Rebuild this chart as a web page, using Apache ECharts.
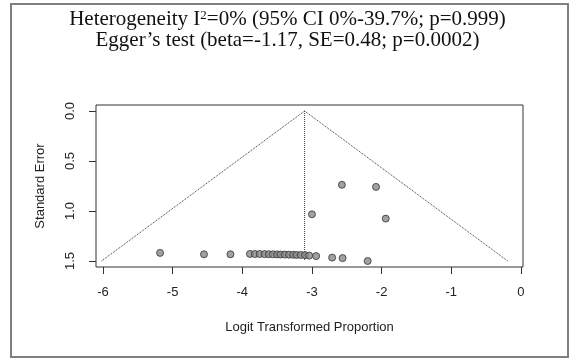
<!DOCTYPE html>
<html>
<head>
<meta charset="utf-8">
<script src="https://cdn.jsdelivr.net/npm/echarts@6/dist/echarts.min.js"></script>
<style>
html,body{margin:0;padding:0;background:#fff;}
#chart{width:575px;height:358px;}
</style>
</head>
<body>
<div id="chart"></div>
<script>
// Study estimates: logit transformed proportion and standard error
var studyLogit = [-5.18, -4.55, -4.17, -3.89, -3.82, -3.75, -3.68, -3.62, -3.56, -3.50, -3.45, -3.39, -3.33, -3.27, -3.22, -3.16, -3.10,
                  -3.04, -2.94, -2.71, -2.56, -2.20, -3.00, -2.57, -2.08, -1.94];
var studySE    = [1.419, 1.433, 1.433, 1.429, 1.430, 1.430, 1.431, 1.432, 1.433, 1.434, 1.435, 1.436, 1.437, 1.438, 1.439, 1.440, 1.441,
                  1.446, 1.451, 1.466, 1.471, 1.500, 1.033, 0.738, 0.759, 1.076];
// Funnel (pseudo-confidence region) vertices and pooled estimate line
var funnelX = [-6.02, -3.105, -0.19];
var funnelY = [1.5, 0, 1.5];
var pooledX = [-3.105, -3.105];
var pooledY = [0, 1.5];
// Tick labels
var xTicks = [-6, -5, -4, -3, -2, -1, 0];
var yTicks = [0, 0.5, 1.0, 1.5];
var titleLine1a = 'Heterogeneity I';
var titleSup = '2';
var titleLine1b = '=0% (95% CI 0%-39.7%; p=0.999)';
var titleLine2 = 'Egger\u2019s test (beta=-1.17, SE=0.48; p=0.0002)';

var pts = studyLogit.map(function (x, i) { return [x, studySE[i]]; });
var funnelPts = funnelX.map(function (x, i) { return [x, funnelY[i]]; });
var pooledPts = pooledX.map(function (x, i) { return [x, pooledY[i]]; });

var chart = echarts.init(document.getElementById('chart'), null, {renderer: 'canvas'});
var axisFont = {fontFamily: 'Liberation Sans, Arial, sans-serif', fontSize: 13, color: '#222'};
var serif = 'Liberation Serif, Times New Roman, serif';
chart.setOption({
  animation: false,
  backgroundColor: '#fff',
  title: {
    text: '{n|' + titleLine1a + '}{s|' + titleSup + '}{n|' + titleLine1b + '}\n{n|' + titleLine2 + '}',
    left: 'center',
    top: 4,
    textStyle: {
      fontFamily: serif, fontSize: 21, fontWeight: 'normal', color: '#111', lineHeight: 21,
      rich: {
        n: {fontFamily: serif, fontSize: 21, color: '#111', lineHeight: 21},
        s: {fontFamily: serif, fontSize: 13, color: '#111', lineHeight: 21, verticalAlign: 'top', padding: [0, 0, 8, 0]}
      }
    }
  },
  graphic: [{
    type: 'rect',
    shape: {x: 11, y: 4, width: 557, height: 353},
    style: {fill: 'none', stroke: '#808080', lineWidth: 2},
    silent: true
  }],
  grid: {left: 96, right: 52, top: 105, bottom: 91, show: true, borderColor: '#333', borderWidth: 1, backgroundColor: 'transparent'},
  xAxis: {
    type: 'value', min: -6.1, max: 0.03,
    splitLine: {show: false},
    axisLine: {show: false, onZero: false},
    axisTick: {show: true, length: 7, lineStyle: {color: '#333'}, customValues: xTicks},
    axisLabel: Object.assign({margin: 19, customValues: xTicks, formatter: function (v) { return String(v); }}, axisFont),
    name: 'Logit Transformed Proportion',
    nameLocation: 'middle', nameGap: 54,
    nameTextStyle: axisFont
  },
  yAxis: {
    type: 'value', min: -0.06, max: 1.56, inverse: true,
    splitLine: {show: false},
    axisLine: {show: false, onZero: false},
    axisTick: {show: true, length: 7, lineStyle: {color: '#333'}, customValues: yTicks},
    axisLabel: Object.assign({margin: 19, rotate: 90, customValues: yTicks, formatter: function (v) { return v.toFixed(1); }}, axisFont),
    name: 'Standard Error',
    nameLocation: 'middle', nameGap: 49, nameRotate: 90,
    nameTextStyle: axisFont
  },
  series: [
    {type: 'line', data: funnelPts, symbol: 'none', lineStyle: {color: '#333', width: 1, type: 'dotted'}, silent: true, z: 1},
    {type: 'line', data: pooledPts, symbol: 'none', lineStyle: {color: '#333', width: 1, type: 'dotted'}, silent: true, z: 1},
    {type: 'scatter', data: pts, symbol: 'circle', symbolSize: 7,
     itemStyle: {color: '#8a8a8a', borderColor: '#333', borderWidth: 1}, z: 3}
  ]
});
</script>
</body>
</html>
